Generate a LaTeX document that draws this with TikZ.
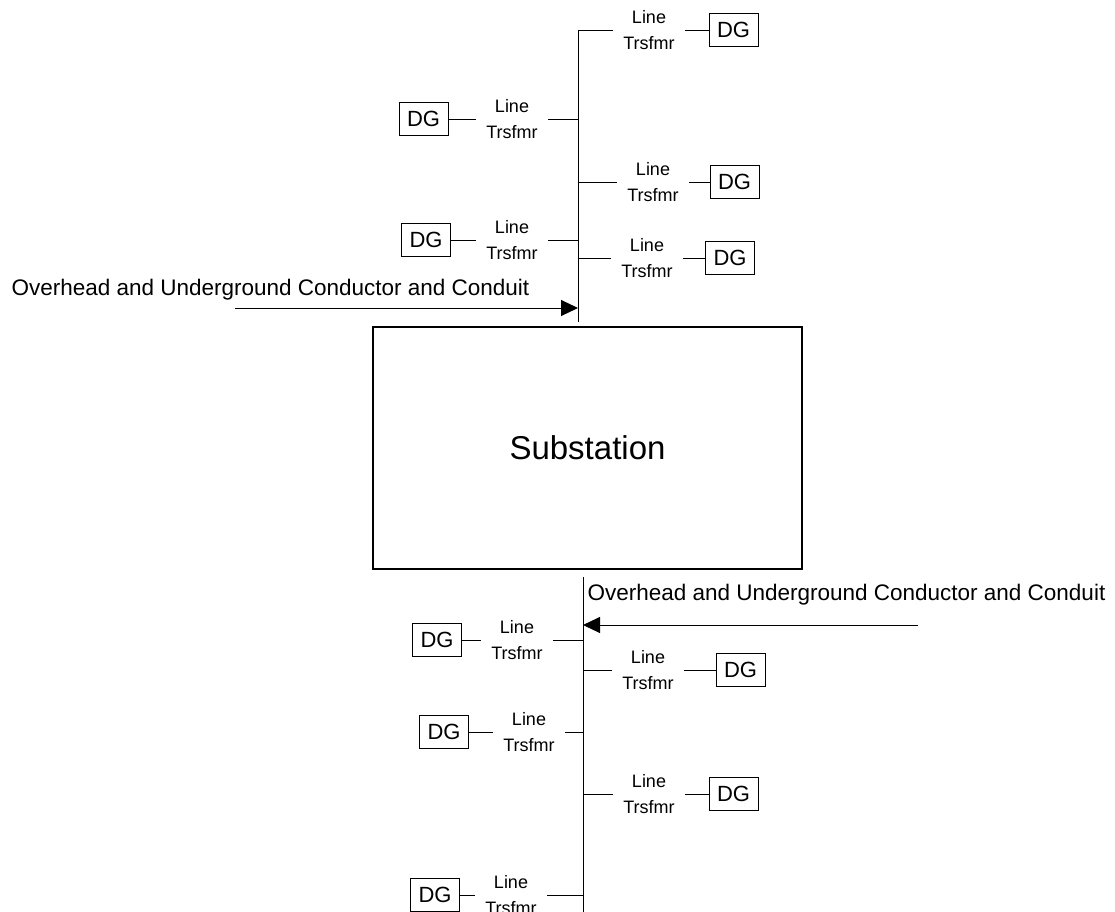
\documentclass[tikz,border=0pt]{standalone}
\usepackage{fontspec}
\setmainfont{Liberation Sans}
\usetikzlibrary{arrows.meta}

\begin{document}
\begin{tikzpicture}[x=1pt, y=-1pt, line width=1pt, >={Triangle[length=17pt,width=16pt]},
  dg/.style={draw, rectangle, inner sep=0pt, minimum width=49pt, minimum height=33pt, font=\fontsize{22}{26}\selectfont},
  trs/.style={align=center, inner xsep=10pt, inner ysep=0pt, font=\fontsize{18}{26}\selectfont},
  feed/.style={anchor=west, inner sep=0pt, font=\fontsize{22.5}{27}\selectfont}]
\useasboundingbox (0,0) rectangle (1115,911);
\clip (0,0) rectangle (1115,911);
% substation
\node (sub) at (587.5,448) [draw, line width=1.6pt, minimum width=429pt, minimum height=242pt, font=\fontsize{33}{40}\selectfont] {Substation};

% upper bus
\coordinate (ut) at (578,30);
\coordinate (ub) at (578,322);
\draw (ut) -- (ub);
\node (l1) at (649,30) [trs] {Line\\Trsfmr};
\node (d1) at (733.5,30) [dg] {DG};
\node (l2) at (512,119) [trs] {Line\\Trsfmr};
\node (d2) at (423.5,119) [dg] {DG};
\node (l3) at (653,182) [trs] {Line\\Trsfmr};
\node (d3) at (734.5,182) [dg] {DG};
\node (l4) at (512,240) [trs] {Line\\Trsfmr};
\node (d4) at (426,240) [dg] {DG};
\node (l5) at (647,258) [trs] {Line\\Trsfmr};
\node (d5) at (730,258) [dg] {DG};
\draw (l1 -| ut) -- (l1.west); \draw (l1.east) -- (d1);
\draw (l2 -| ut) -- (l2.east); \draw (l2.west) -- (d2);
\draw (l3 -| ut) -- (l3.west); \draw (l3.east) -- (d3);
\draw (l4 -| ut) -- (l4.east); \draw (l4.west) -- (d4);
\draw (l5 -| ut) -- (l5.west); \draw (l5.east) -- (d5);
\node (ovh1) at (11,290) [feed] {Overhead and Underground Conductor and Conduit};
\coordinate (a1) at (235,308);
\draw[->] (a1) -- (a1 -| ut);

% lower bus
\coordinate (dt) at (583,577);
\coordinate (db) at (583,915);
\draw (dt) -- (db);
\node (ovh2) at (587,595) [feed] {Overhead and Underground Conductor and Conduit};
\coordinate (a2) at (918,625);
\draw[->] (a2) -- (a2 -| dt);
\node (l6) at (517,640) [trs] {Line\\Trsfmr};
\node (d6) at (437,640) [dg] {DG};
\node (l7) at (648,670) [trs] {Line\\Trsfmr};
\node (d7) at (740.5,670) [dg] {DG};
\node (l8) at (529,732) [trs] {Line\\Trsfmr};
\node (d8) at (444,732) [dg] {DG};
\node (l9) at (649,794) [trs] {Line\\Trsfmr};
\node (d9) at (733.5,794) [dg] {DG};
\node (l10) at (511,895) [trs] {Line\\Trsfmr};
\node (d10) at (435,895) [dg] {DG};
\draw (l6 -| dt) -- (l6.east); \draw (l6.west) -- (d6);
\draw (l7 -| dt) -- (l7.west); \draw (l7.east) -- (d7);
\draw (l8 -| dt) -- (l8.east); \draw (l8.west) -- (d8);
\draw (l9 -| dt) -- (l9.west); \draw (l9.east) -- (d9);
\draw (l10 -| dt) -- (l10.east); \draw (l10.west) -- (d10);
\end{tikzpicture}
\end{document}
